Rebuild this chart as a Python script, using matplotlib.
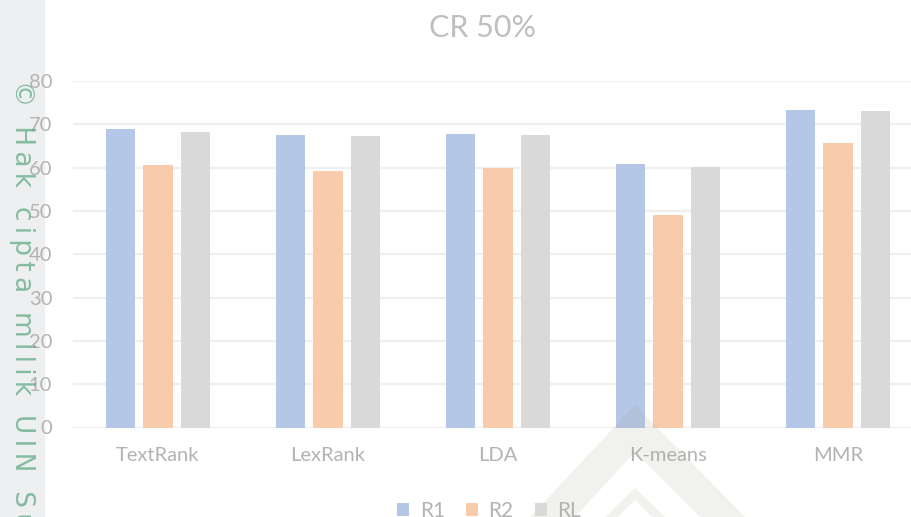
""" Grafik batang ROUGE untuk CR 50% """
import numpy as np
import matplotlib.pyplot as plt
from matplotlib.patches import Rectangle, Polygon

# Data
methods = ['TextRank', 'LexRank', 'LDA', 'K-means', 'MMR']
r1 = [68.9, 67.5, 67.8, 60.9, 73.3]
r2 = [60.6, 59.2, 60.0, 49.1, 65.6]
rl = [68.3, 67.2, 67.5, 60.2, 73.1]
series_names = ['R1', 'R2', 'RL']
yticks = [0, 10, 20, 30, 40, 50, 60, 70, 80]

colors = ['#b4c7e7', '#f8cbad', '#d9d9d9']
txt_color = '#b3b3b3'

plt.rcParams['font.family'] = ['Lato', 'DejaVu Sans']

W, H = 912, 517
fig = plt.figure(figsize=(W / 100, H / 100), dpi=100)

# bidang abu-abu di kiri (watermark), di belakang semua
fig.patches.append(Rectangle((0, 0), 44 / W, 1, transform=fig.transFigure,
                             color='#eeeff1', zorder=-5))

# posisi sumbu (sebagian terpotong di kanan)
ax = fig.add_axes([73 / W, 1 - 427.5 / H, 850 / W, (427.5 - 81) / H])
ax.set_facecolor('none')

x = np.arange(len(methods))
w = 0.174
off = 0.22
for i, (vals, name) in enumerate(zip([r1, r2, rl], series_names)):
    ax.bar(x + (i - 1) * off, vals, width=w, color=colors[i], label=name, zorder=3)

ax.set_xlim(-0.5, len(methods) - 0.5)
ax.set_ylim(0, 80)
ax.set_yticks(yticks)
ax.set_xticks(x)
ax.set_xticklabels(methods)
ax.grid(axis='y', color='#efefef', linewidth=1.6, zorder=0)
ax.set_axisbelow(True)
for s in ax.spines.values():
    s.set_visible(False)
ax.tick_params(axis='both', length=0, colors=txt_color, labelsize=14.5)
ax.tick_params(axis='y', pad=15)
ax.tick_params(axis='x', pad=14)

# Judul
fig.text(483 / W, 1 - 28 / H, 'CR 50%', ha='center', va='center',
         fontsize=22, color='#bfbfbf')

# Legenda (terpotong di bawah)
leg = fig.legend(loc='center', bbox_to_anchor=(489 / W, 1 - 511 / H), ncol=3,
                 frameon=False, fontsize=15, handlelength=0.6, handleheight=0.6,
                 handletextpad=0.5, columnspacing=1.0)
for t in leg.get_texts():
    t.set_color(txt_color)

# logo watermark segitiga
wm = '#9a9a80'
outer = [(530, 517), (635, 405), (745, 517), (700, 517), (635, 452), (575, 517)]
inner = [(605, 517), (635, 488), (665, 517), (652, 517), (635, 500), (618, 517)]
for pts in (outer, inner):
    fig.patches.append(Polygon([(px / W, 1 - py / H) for px, py in pts],
                               closed=True, transform=fig.transFigure,
                               color=wm, alpha=0.13, lw=0, zorder=5))

# teks watermark vertikal (huruf direnggangkan)
wm_text = '\u2009'.join('\u00a9 Hak cipta milik UIN Su')
fig.text(22 / W, 1 - 80 / H, wm_text, rotation=-90,
         ha='center', va='top', fontsize=19, color='#3d9a6a', alpha=0.6,
         family='DejaVu Sans', zorder=6)

plt.savefig('out.png', dpi=100)
